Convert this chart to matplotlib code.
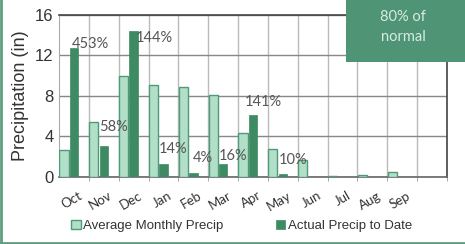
import numpy as np
import matplotlib
matplotlib.use("Agg")
import matplotlib.pyplot as plt
from matplotlib.patches import Rectangle

# 数据
months = ["Oct", "Nov", "Dec", "Jan", "Feb", "Mar", "Apr", "May", "Jun", "Jul", "Aug", "Sep", ""]
avg_precip = [2.7, 5.4, 10.0, 9.1, 8.9, 8.1, 4.35, 2.75, 1.7, 0.1, 0.2, 0.5, 0]
actual_precip = [12.7, 3.1, 14.4, 1.3, 0.35, 1.3, 6.1, 0.27, 0, 0, 0, 0, 0]
pct_labels = ["453%", "58%", "144%", "14%", "4%", "16%", "141%", "10%"]
# 标签的高度 (手动放置)
label_y = [13.1, 4.95, 13.7, 2.75, 1.9, 2.1, 7.4, 1.7]

plt.rcParams['font.family'] = ['Liberation Sans', 'DejaVu Sans']

fig = plt.figure(figsize=(4.65, 2.44), dpi=100)
ax = fig.add_axes([0.127, 0.2746, 0.834, 0.664])

x = np.arange(len(months))
w = 1 / 3
light = "#b2dfc8"
light_edge = "#4f9a78"
dark = "#3e8a63"

ax.bar(x - w, avg_precip, width=w * 0.92, color=light, edgecolor=light_edge, linewidth=1.0, zorder=3,
       label="Average Monthly Precip")
ax.bar(x, actual_precip, width=w * 0.85, color=dark, edgecolor=dark, linewidth=0.5, zorder=3,
       label="Actual Precip to Date")

for i, (t, yy) in enumerate(zip(pct_labels, label_y)):
    dx = w
    if i == 0:
        dx = 0.55
    if i == 2:
        dx = 0.7
    ax.text(i + dx, yy, t, ha="center", va="center", fontsize=10.5, color="#555555",
            family=["Lato", "DejaVu Sans"], zorder=4)

ax.set_xlim(-0.5, len(months) - 0.5)
ax.set_ylim(0, 16)
ax.set_yticks([0, 4, 8, 12, 16])
ax.set_yticklabels(["0", "4", "8", "12", "16"], fontsize=12, color="#333333")
ax.set_xticks(x[:12] + 0.15)
ax.set_xticklabels(months[:12], rotation=30, ha="right", rotation_mode="anchor", fontsize=9.5,
                   family=["Lato", "DejaVu Sans"], color="#333333")
ax.set_xticks(x + 0.5, minor=True)
ax.tick_params(axis="x", which="major", length=0, pad=9)
ax.tick_params(axis="x", which="minor", length=3, color="#999999")
ax.tick_params(axis="y", length=0, pad=4)

ax.grid(axis="y", color="#888888", linewidth=1.0, zorder=0)
ax.grid(axis="x", which="minor", color="#bbbbbb", linewidth=1.0, zorder=0)
ax.set_axisbelow(True)
for s in ["top", "right"]:
    ax.spines[s].set_color("#444444")
    ax.spines[s].set_linewidth(1.2)
ax.spines["left"].set_color("#aaaaaa")
ax.spines["bottom"].set_color("#666666")
ax.spines["bottom"].set_linewidth(1.2)

ax.set_ylabel("Precipitation (in)", fontsize=13, color="#333333", labelpad=4)

leg = fig.legend(loc="lower center", bbox_to_anchor=(0.52, 0.0), ncol=2, frameon=False, fontsize=9.5,
                 handlelength=0.7, handleheight=0.7, handletextpad=0.2, columnspacing=4)
for t in leg.get_texts():
    t.set_color("#333333")

# 右上角的绿色框
fig.patches.append(Rectangle((346 / 465, 1 - 62 / 244), 119 / 465, 62 / 244, transform=fig.transFigure,
                             facecolor="#4f9474", edgecolor="none", zorder=10))
fig.text(403 / 465, 1 - 17 / 244, "80% of", ha="center", va="center", fontsize=10.5, color="#d6ede0",
         family=["Lato", "DejaVu Sans"], zorder=11)
fig.text(403 / 465, 1 - 37 / 244, "normal", ha="center", va="center", fontsize=10.5, color="#d6ede0",
         family=["Lato", "DejaVu Sans"], zorder=11)

# 边框
fig.add_artist(plt.Line2D([0.002, 0.002], [0, 1], transform=fig.transFigure, color="#5f9e80", linewidth=2))
fig.add_artist(plt.Line2D([0, 1], [0.006, 0.006], transform=fig.transFigure, color="#5f9e80", linewidth=2))

fig.savefig("out.png", dpi=100)
